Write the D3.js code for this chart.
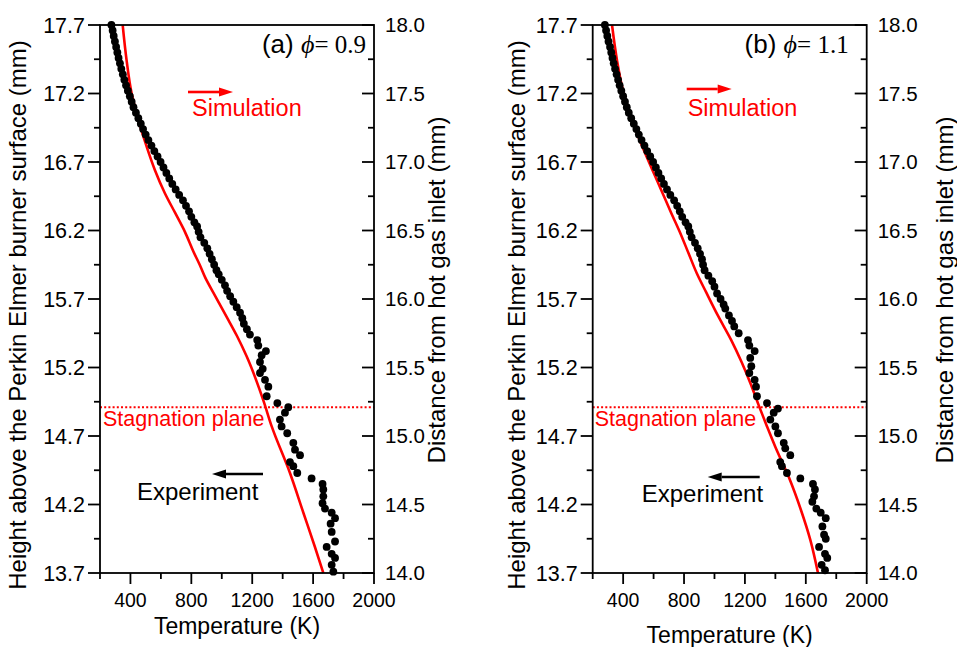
<!DOCTYPE html>
<html><head><meta charset="utf-8">
<script src="https://cdn.jsdelivr.net/npm/d3@7"></script>
<style>body{margin:0;background:#fff}svg{display:block}</style>
</head><body><svg id="c" width="957" height="647"></svg>
<script>
// ---------- data ----------
const tempTicks = [200,400,600,800,1000,1200,1400,1600,1800,2000];
const tempLabels = [400,800,1200,1600,2000];
const heightTicks = [13.7,13.95,14.2,14.45,14.7,14.95,15.2,15.45,15.7,15.95,16.2,16.45,16.7,16.95,17.2,17.45,17.7];
const heightLabels = [13.7,14.2,14.7,15.2,15.7,16.2,16.7,17.2,17.7];
const distTicks = [14.0,14.25,14.5,14.75,15.0,15.25,15.5,15.75,16.0,16.25,16.5,16.75,17.0,17.25,17.5,17.75,18.0];
const distLabels = [14.0,14.5,15.0,15.5,16.0,16.5,17.0,17.5,18.0];
const stagnationHeight = [14.91, 14.91];

// panel (a) phi = 0.9
const simA_h = [17.70,17.44,17.20,17.01,16.81,16.64,16.47,16.33,16.19,16.05,15.95,15.86,15.72,15.57,15.43,15.28,14.96,14.77,14.43,14.14,13.89,13.70];
const simA_T = [349,375,408,452,507,561,627,693,758,812,855,890,958,1032,1100,1164,1273,1328,1448,1536,1612,1667];
const expA_h = [17.70,17.66,17.62,17.58,17.54,17.50,17.46,17.42,17.38,17.34,17.30,17.26,17.22,17.18,17.14,17.10,17.06,17.02,16.98,16.94,16.90,16.86,16.82,16.78,16.74,16.70,16.66,16.62,16.58,16.54,16.50,16.46,16.42,16.38,16.34,16.30,16.26,16.23,16.19,16.15,16.11,16.07,16.03,15.99,15.95,15.91,15.88,15.84,15.80,15.76,15.72,15.68,15.64,15.60,15.56,15.52,15.48,15.44,15.40,15.36,15.32,15.29,15.24,15.19,15.16,15.11,15.06,14.99,14.94,14.91,14.87,14.82,14.77,14.72,14.65,14.60,14.56,14.51,14.48,14.43,14.39,14.35,14.31,14.26,14.21,14.17,14.14,14.10,14.06,14.00,13.93,13.89,13.84,13.81,13.76,13.71];
const expA_T = [275,283,290,298,306,314,322,331,340,350,360,371,383,396,408,420,436,452,468,483,500,518,538,557,578,598,617,636,655,675,697,720,745,765,785,800,820,838,848,860,885,905,920,935,950,965,980,1000,1021,1035,1055,1076,1098,1120,1135,1145,1165,1185,1233,1240,1290,1262,1251,1269,1251,1284,1306,1295,1365,1437,1415,1382,1393,1430,1470,1481,1514,1448,1470,1496,1590,1662,1667,1667,1662,1678,1722,1744,1715,1722,1744,1689,1722,1744,1722,1733];

// panel (b) phi = 1.1
const simB_h = [17.70,17.44,17.25,17.08,16.91,16.76,16.62,16.47,16.33,16.20,16.03,15.89,15.75,15.58,15.40,15.24,15.08,14.92,14.77,14.62,14.40,14.16,13.94,13.70];
const simB_T = [327,360,393,437,491,546,601,660,715,768,831,883,945,1022,1110,1178,1238,1292,1345,1400,1488,1568,1630,1680];
const expB_h = [17.70,17.66,17.62,17.58,17.54,17.50,17.46,17.42,17.38,17.34,17.30,17.26,17.22,17.18,17.14,17.10,17.06,17.02,16.98,16.94,16.90,16.86,16.82,16.78,16.74,16.70,16.66,16.62,16.58,16.54,16.50,16.46,16.42,16.38,16.34,16.30,16.26,16.23,16.19,16.15,16.11,16.07,16.03,15.99,15.95,15.91,15.87,15.83,15.79,15.74,15.70,15.66,15.63,15.58,15.54,15.50,15.45,15.40,15.36,15.32,15.27,15.21,15.16,15.11,15.06,14.99,14.94,14.90,14.87,14.82,14.77,14.72,14.65,14.61,14.56,14.51,14.48,14.43,14.39,14.35,14.31,14.26,14.22,14.17,14.14,14.10,14.04,13.98,13.95,13.89,13.84,13.81,13.76,13.72];
const expB_T = [280,288,296,304,314,322,330,338,347,357,367,377,388,400,412,424,437,453,470,487,503,521,540,558,578,597,615,632,650,668,688,710,735,755,772,788,810,828,838,850,872,890,905,918,925,935,960,985,1000,1017,1040,1060,1071,1095,1115,1130,1159,1220,1229,1264,1235,1242,1229,1264,1273,1279,1345,1417,1389,1367,1400,1417,1455,1465,1498,1432,1443,1476,1564,1647,1660,1654,1643,1669,1698,1731,1709,1720,1731,1687,1726,1741,1704,1726];

// ---------- drawing ----------
const svg = d3.select("#c");
const FONT = "'Liberation Sans', Arial, sans-serif";
const SERIF = "'Liberation Serif', 'Times New Roman', serif";
const RED = "#ff0000";

const panels = [
  {x0:100, x1:374, tag:"(a) ", phi:"0.9", simT:simA_T, simH:simA_h, expT:expA_T, expH:expA_h,
   tagX:266, simArrow:[88,133,67], simText:[92,91], stagText:[3,401], expArrow:[163,112,449], expText:[37,475],
   yTitleX:18, y2TitleX:437, xTitleY:634},
  {x0:592.7, x1:866.7, tag:"(b) ", phi:"1.1", simT:simB_T, simH:simB_h, expT:expB_T, expH:expB_h,
   tagX:256, simArrow:[94,139,64], simText:[95,91], stagText:[2,401], expArrow:[167,115,452], expText:[49,477],
   yTitleX:517, y2TitleX:945, xTitleY:643}
];
const plotTop = 25, plotBottom = 573;

function arrow(g, x1, x2, yy, color){
  const dir = Math.sign(x2 - x1);
  const head = 14, hw = 4.5;
  g.append("line").attr("x1", x1).attr("x2", x2 - dir*head).attr("y1", yy).attr("y2", yy)
    .attr("stroke", color).attr("stroke-width", 2.6);
  g.append("path").attr("d", `M${x2},${yy} L${x2-dir*head},${yy-hw} L${x2-dir*head},${yy+hw} Z`).attr("fill", color);
}

panels.forEach(p => {
  const x = d3.scaleLinear().domain([200, 2000]).range([p.x0, p.x1]);
  const y = d3.scaleLinear().domain([13.7, 17.7]).range([plotBottom, plotTop]);
  const y2 = d3.scaleLinear().domain([14.0, 18.0]).range([plotBottom, plotTop]);
  const w = p.x1 - p.x0;

  // stagnation plane
  svg.append("line").attr("x1", x(200)).attr("x2", x(2000))
    .attr("y1", y(stagnationHeight[0])).attr("y2", y(stagnationHeight[1]))
    .attr("stroke", RED).attr("stroke-width", 2).attr("stroke-dasharray", "2,2.2");

  // simulation line
  const simData = p.simT.map((t, i) => [t, p.simH[i]]);
  svg.append("path").datum(simData)
    .attr("d", d3.line().x(d => x(d[0])).y(d => y(d[1])).curve(d3.curveMonotoneY))
    .attr("fill", "none").attr("stroke", RED).attr("stroke-width", 2.6);

  // experiment points
  const expData = p.expT.map((t, i) => [t, p.expH[i]]);
  svg.append("g").selectAll("circle").data(expData).join("circle")
    .attr("cx", d => x(d[0])).attr("cy", d => y(d[1])).attr("r", 3.9).attr("fill", "#000");

  // ticks
  tempTicks.forEach(t => {
    const major = tempLabels.includes(t);
    svg.append("line").attr("x1", x(t)).attr("x2", x(t)).attr("y1", plotBottom).attr("y2", plotBottom + (major ? 11 : 6))
      .attr("stroke", "#000").attr("stroke-width", 1.8);
  });
  tempLabels.forEach(t => {
    svg.append("text").attr("x", x(t)).attr("y", 607).attr("text-anchor", "middle")
      .attr("font-family", FONT).attr("font-size", 19.5).text(t);
  });
  heightTicks.forEach(h => {
    const major = heightLabels.some(v => Math.abs(v - h) < 1e-6);
    svg.append("line").attr("x1", p.x0 - (major ? 12 : 6)).attr("x2", p.x0).attr("y1", y(h)).attr("y2", y(h))
      .attr("stroke", "#000").attr("stroke-width", 1.8);
  });
  heightLabels.forEach(h => {
    svg.append("text").attr("x", p.x0 - 15).attr("y", y(h) + 7.5).attr("text-anchor", "end")
      .attr("font-family", FONT).attr("font-size", 21.5).text(d3.format(".1f")(h));
  });
  distTicks.forEach(h => {
    const major = distLabels.some(v => Math.abs(v - h) < 1e-6);
    svg.append("line").attr("x1", p.x1 - (major ? 12 : 6)).attr("x2", p.x1).attr("y1", y2(h)).attr("y2", y2(h))
      .attr("stroke", "#000").attr("stroke-width", 1.8);
  });
  distLabels.forEach(h => {
    svg.append("text").attr("x", p.x1 + 11).attr("y", y2(h) + 7).attr("text-anchor", "start")
      .attr("font-family", FONT).attr("font-size", 20.5).text(d3.format(".1f")(h));
  });

  // frame
  svg.append("rect").attr("x", p.x0).attr("y", plotTop).attr("width", w).attr("height", plotBottom - plotTop)
    .attr("fill", "none").attr("stroke", "#000").attr("stroke-width", 1.8);

  // titles
  svg.append("text").attr("transform", `translate(${p.yTitleX + 8},315) rotate(-90)`)
    .attr("text-anchor", "middle").attr("font-family", FONT).attr("font-size", 24)
    .text("Height above the Perkin Elmer burner surface (mm)");
  svg.append("text").attr("transform", `translate(${p.y2TitleX + 8},290) rotate(-90)`)
    .attr("text-anchor", "middle").attr("font-family", FONT).attr("font-size", 24)
    .text("Distance from hot gas inlet (mm)");
  svg.append("text").attr("x", (p.x0 + p.x1) / 2).attr("y", p.xTitleY).attr("text-anchor", "middle")
    .attr("font-family", FONT).attr("font-size", 23).text("Temperature (K)");

  // annotations
  const g = svg.append("g").attr("transform", `translate(${p.x0},${plotTop})`);
  const tag = g.append("text").attr("x", p.tagX).attr("y", 28).attr("text-anchor", "end").attr("font-size", 25);
  tag.append("tspan").attr("font-family", FONT).attr("font-size", 26).text(p.tag);
  tag.append("tspan").attr("font-family", SERIF).attr("font-style", "italic").attr("font-size", 26).text("\u03D5");
  tag.append("tspan").attr("font-family", SERIF).text("= " + p.phi);

  arrow(g, p.simArrow[0], p.simArrow[1], p.simArrow[2], RED);
  g.append("text").attr("x", p.simText[0]).attr("y", p.simText[1]).attr("font-family", FONT)
    .attr("font-size", 23.5).attr("fill", RED).text("Simulation");
  g.append("text").attr("x", p.stagText[0]).attr("y", p.stagText[1]).attr("font-family", FONT)
    .attr("font-size", 21.5).attr("fill", RED).text("Stagnation plane");
  arrow(g, p.expArrow[0], p.expArrow[1], p.expArrow[2], "#000");
  g.append("text").attr("x", p.expText[0]).attr("y", p.expText[1]).attr("font-family", FONT)
    .attr("font-size", 24).attr("fill", "#000").text("Experiment");
});
</script></body></html>
